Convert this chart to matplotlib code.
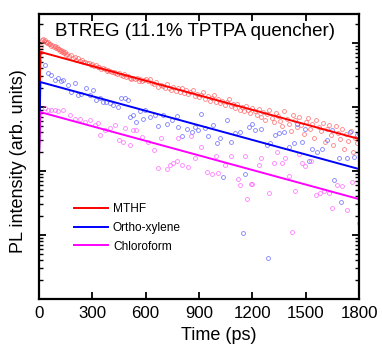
import numpy as np
import matplotlib
matplotlib.use("Agg")
import matplotlib.pyplot as plt
from matplotlib.ticker import LogLocator, NullFormatter, MultipleLocator

plt.rcParams['font.family'] = ['Liberation Sans', 'DejaVu Sans']

# ---- time-resolved PL data (time in ps, intensity as log10 counts) ----
mthf_t = [3, 6, 10, 15, 22, 28, 34, 40, 46, 52, 58, 64, 70, 76, 82, 88, 94, 100, 106, 112, 118,
          124, 130, 136, 142, 148, 154, 160, 170, 180, 190, 200, 210, 220, 230, 240, 250, 260,
          270, 280, 290, 300, 310, 320, 330, 340, 350, 360, 370, 380, 390, 400, 410, 420, 430,
          440, 450, 460, 470, 480, 490, 500, 510, 520, 530, 540, 550, 560, 570, 580, 590,
          600, 612, 624, 636, 648, 660, 672, 684, 696, 708, 720, 732, 744, 756, 768, 780, 792,
          804, 816, 828, 840, 852, 864, 876, 888, 900, 912, 924, 936, 948, 960, 972, 984, 996,
          1008, 1020, 1032, 1044, 1056, 1068, 1080, 1092, 1104, 1116, 1128, 1140, 1152, 1164,
          1176, 1188, 1200, 1212, 1224, 1236, 1248, 1260, 1272, 1284, 1296, 1308, 1320, 1332,
          1344, 1356, 1368, 1380, 1392, 1404, 1416, 1428, 1440, 1452, 1464, 1476, 1488, 1500,
          1512, 1524, 1536, 1548, 1560, 1572, 1584, 1596, 1608, 1620, 1632, 1644, 1656, 1668,
          1680, 1692, 1704, 1716, 1728, 1740, 1752, 1764, 1776, 1788, 1798]
mthf_log = [3.72, 3.86, 3.95, 4.04, 4.06, 4.03, 4.05, 4.02, 4.00, 4.01, 3.98, 3.99, 3.96, 3.97,
            3.94, 3.95, 3.92, 3.93, 3.90, 3.91, 3.88, 3.89, 3.86, 3.87, 3.84, 3.86, 3.82, 3.83,
            3.80, 3.81, 3.77, 3.78, 3.74, 3.76, 3.72, 3.73, 3.70, 3.71, 3.68, 3.69, 3.66, 3.67,
            3.64, 3.66, 3.62, 3.63, 3.60, 3.61, 3.59, 3.57, 3.58, 3.56, 3.54, 3.55, 3.53, 3.51,
            3.53, 3.50, 3.49, 3.51, 3.47, 3.48, 3.46, 3.44, 3.46, 3.43, 3.45, 3.41, 3.43, 3.40,
            3.42, 3.44, 3.40, 3.43, 3.38, 3.36, 3.39, 3.31, 3.35, 3.33, 3.29, 3.36, 3.30, 3.27,
            3.32, 3.25, 3.29, 3.24, 3.30, 3.22, 3.26, 3.20, 3.24, 3.27, 3.17, 3.21, 3.15, 3.19,
            3.23, 3.13, 3.17, 3.10, 3.14, 3.18, 3.08, 3.12, 3.06, 3.10, 3.03, 3.08, 3.12, 3.01,
            3.05, 2.98, 3.04, 2.96, 3.00, 2.93, 3.02, 2.95, 2.91, 2.99, 2.93, 2.88, 2.97, 2.85,
            2.92, 2.80, 2.89, 2.95, 2.83, 2.76, 2.90, 2.86, 2.78, 2.70, 2.93, 2.82, 2.74, 2.62,
            2.88, 2.79, 2.68, 2.85, 2.72, 2.58, 2.77, 2.83, 2.66, 2.74, 2.52, 2.80, 2.69, 2.62,
            2.75, 2.45, 2.66, 2.72, 2.56, 2.40, 2.70, 2.60, 2.50, 2.65, 2.34, 2.58, 2.47, 2.62,
            2.30, 2.52, 2.44, 2.57]

oxyl_t = [32, 51, 69, 88, 107, 126, 135, 163, 182, 200, 219, 238, 266, 285, 303, 322, 341, 360,
          378, 397, 416, 444, 463, 482, 500, 510, 528, 547, 566, 585, 596, 624, 652, 671, 699,
          718, 746, 774, 784, 806, 830, 858, 877, 896, 911, 934, 952, 980, 999, 1018, 1037,
          1055, 1080, 1102, 1130, 1145, 1159, 1181, 1196, 1217, 1250, 1282, 1290, 1301, 1329,
          1348, 1376, 1404, 1432, 1451, 1479, 1498, 1517, 1536, 1564, 1592, 1620, 1648, 1657,
          1686, 1700, 1732, 1751, 1770, 1789]
oxyl_log = [3.66, 3.53, 3.50, 3.42, 3.45, 3.40, 3.42, 3.34, 3.24, 3.37, 3.19, 3.21, 3.29, 3.19,
            3.26, 3.11, 3.14, 3.08, 3.08, 3.06, 3.03, 3.00, 3.14, 3.14, 3.11, 2.85, 2.87, 2.77,
            2.93, 2.82, 2.95, 2.84, 2.87, 2.71, 2.87, 2.74, 2.80, 2.86, 2.68, 2.54, 2.66, 2.61,
            2.69, 2.64, 2.89, 2.67, 2.54, 2.72, 2.43, 2.51, 1.91, 2.79, 2.46, 2.59, 2.61, 1.03,
            1.96, 2.69, 2.74, 2.64, 2.65, 2.41, 0.64, 2.44, 2.56, 2.59, 2.61, 2.38, 2.44, 2.74,
            2.46, 2.66, 2.15, 2.34, 2.30, 2.35, 2.48, 2.64, 1.86, 2.20, 1.51, 2.20, 2.61, 2.22,
            2.56]

chcl3_t = [32, 51, 69, 88, 107, 135, 172, 200, 229, 257, 285, 313, 332, 341, 369, 397, 425,
           448, 472, 485, 510, 528, 547, 579, 615, 648, 671, 686, 718, 737, 755, 774, 784, 802,
           836, 855, 877, 911, 943, 971, 994, 1009, 1046, 1080, 1121, 1130, 1159, 1168, 1192,
           1198, 1239, 1250, 1292, 1320, 1339, 1367, 1386, 1404, 1423, 1442, 1460, 1479, 1498,
           1532, 1558, 1582, 1601, 1633, 1648, 1676, 1704, 1732, 1761, 1798]
chcl3_log = [2.99, 2.96, 2.95, 2.96, 2.94, 2.95, 2.87, 2.82, 2.81, 2.77, 2.79, 2.72, 2.75, 2.56,
             2.64, 2.67, 2.72, 2.48, 2.46, 2.67, 2.41, 2.64, 2.64, 2.53, 2.46, 2.32, 2.04, 2.51,
             2.03, 2.09, 2.13, 2.16, 2.51, 2.09, 2.06, 2.55, 2.20, 2.37, 1.99, 1.95, 2.23, 1.97,
             2.09, 2.23, 1.87, 1.78, 2.23, 1.56, 1.80, 1.80, 2.09, 2.20, 1.65, 2.13, 2.30, 2.13,
             2.20, 1.92, 1.05, 1.69, 2.26, 2.13, 2.07, 2.15, 1.63, 1.66, 1.68, 1.65, 1.42, 1.78,
             1.76, 1.39, 1.83, 1.18]

# mono-exponential fits (log10 counts at the listed times)
fit_t = [0, 8, 1800]
mthf_fit = [2.2, 3.86, 2.50]
oxyl_fit = [2.2, 3.39, 2.03]
chcl3_fit = [2.2, 2.92, 1.56]

labels = ["MTHF", "Ortho-xylene", "Chloroform"]
line_colors = ["#ff0000", "#0000ff", "#ff00ff"]
point_colors = ["#ff6060", "#6060ff", "#ff60ff"]

fig = plt.figure(figsize=(3.82, 3.46), dpi=100)
ax = fig.add_axes([0.102, 0.136, 0.838, 0.8235])

series = [(mthf_t, mthf_log), (oxyl_t, oxyl_log), (chcl3_t, chcl3_log)]
for (t, lg), pc in zip(series, point_colors):
    ax.plot(t, 10 ** np.array(lg), linestyle='none', marker='o', markersize=2.8,
            markerfacecolor='none', markeredgecolor=pc, markeredgewidth=0.6, alpha=0.8)

for fit, lc, lab in zip([mthf_fit, oxyl_fit, chcl3_fit], line_colors, labels):
    ax.plot(fit_t, 10 ** np.array(fit), color=lc, linewidth=1.4, label=lab)

ax.set_yscale('log')
ax.set_xlim(0, 1800)
ax.set_ylim(1, 10 ** 4.453)

ax.xaxis.set_major_locator(MultipleLocator(300))
ax.yaxis.set_major_locator(LogLocator(base=10, numticks=10))
ax.yaxis.set_minor_locator(LogLocator(base=10, subs=np.arange(2, 10), numticks=10))
ax.yaxis.set_major_formatter(NullFormatter())
ax.yaxis.set_minor_formatter(NullFormatter())

ax.tick_params(axis='both', which='major', direction='in', length=5, width=1.3,
               top=True, right=True, labelsize=12.2, pad=5)
ax.tick_params(axis='y', which='minor', direction='in', length=3, width=1.0,
               left=True, right=True)
for sp in ax.spines.values():
    sp.set_linewidth(1.6)

ax.set_xlabel("Time (ps)", fontsize=13)
ax.xaxis.set_label_coords(0.5625, -0.098)
ax.set_ylabel("PL intensity (arb. units)", fontsize=13)
ax.yaxis.set_label_coords(-0.036, 0.484)
ax.text(0.486, 0.939, "BTREG (11.1% TPTPA quencher)", transform=ax.transAxes,
        ha='center', va='center', fontsize=13.5)

ax.legend(loc='upper left', bbox_to_anchor=(0.108, 0.335), frameon=False, fontsize=8.6,
          handlelength=2.9, handletextpad=0.4, labelspacing=0.55, borderpad=0, borderaxespad=0)

fig.savefig("out.png", dpi=100)
